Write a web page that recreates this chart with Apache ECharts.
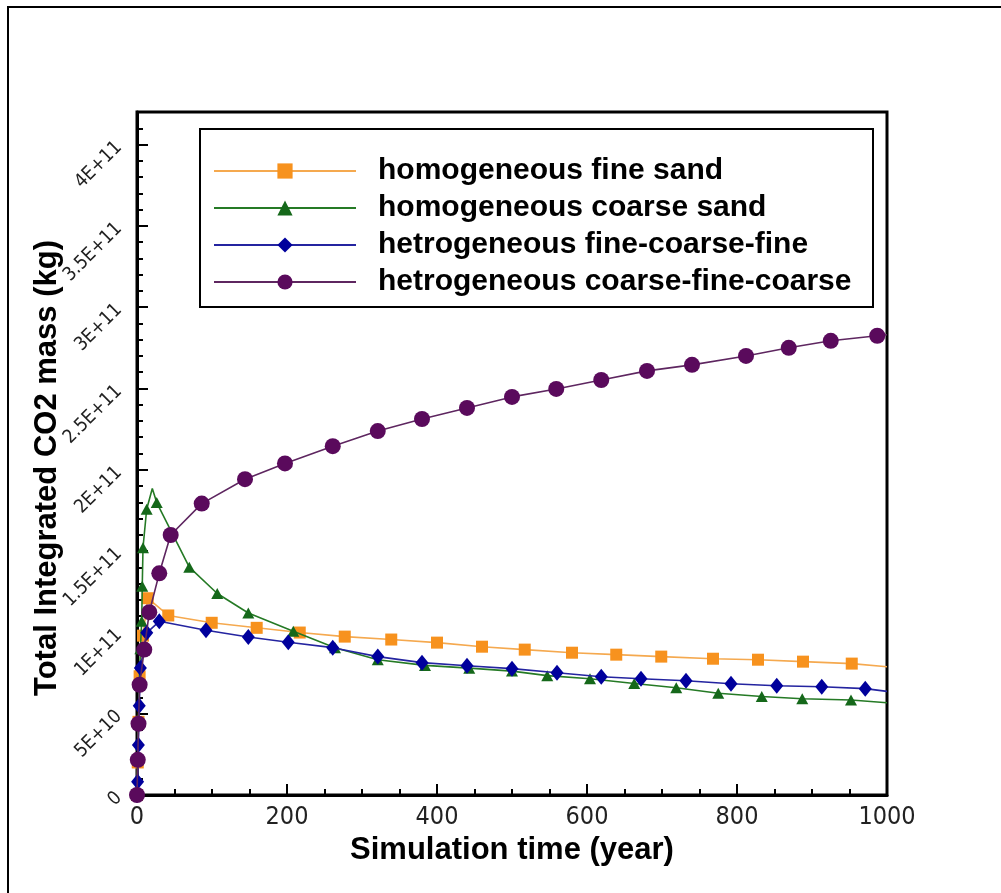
<!DOCTYPE html>
<html>
<head>
<meta charset="utf-8">
<script src="https://cdn.jsdelivr.net/npm/echarts@6/dist/echarts.min.js"></script>
<style>
  html, body { margin: 0; padding: 0; background: #ffffff; }
  #chart { width: 1001px; height: 893px; }
</style>
</head>
<body>
<div id="chart"></div>
<script>
// Series names (legend order)
const seriesNames = [
  'homogeneous fine sand',
  'homogeneous coarse sand',
  'hetrogeneous fine-coarse-fine',
  'hetrogeneous coarse-fine-coarse'
];

// Axis tick labels
const xTickLabels = ['0', '200', '400', '600', '800', '1000'];
const yTickLabels = ['0', '5E+10', '1E+11', '1.5E+11', '2E+11', '2.5E+11', '3E+11', '3.5E+11', '4E+11'];

// [time (year), total integrated CO2 mass (kg)] at the plotted symbols
const fineSandPoints = [
  [0, 0], [1, 0.20e11], [2, 0.45e11], [3.5, 0.73e11], [8, 0.98e11], [14.3, 1.21e11],
  [41.7, 1.104e11], [99.6, 1.059e11], [159.6, 1.028e11], [217, 0.999e11], [277, 0.974e11],
  [339, 0.956e11], [400, 0.937e11], [460, 0.912e11], [517, 0.894e11], [580, 0.875e11],
  [639, 0.863e11], [699, 0.851e11], [768, 0.838e11], [828, 0.832e11], [888, 0.820e11],
  [953, 0.808e11]
];
// curve points drawn without a symbol
const fineSandExtra = [[1000, 0.789e11]];

const coarseSandPoints = [
  [0, 0], [1, 0.22e11], [2, 0.45e11], [3, 0.68e11], [4.5, 0.90e11], [6.3, 1.068e11],
  [7, 1.284e11], [8, 1.521e11], [12.9, 1.757e11], [26.3, 1.798e11], [69.7, 1.401e11],
  [107, 1.239e11], [148.4, 1.119e11], [208.4, 1.007e11], [264, 0.906e11], [321, 0.832e11],
  [384, 0.797e11], [443, 0.780e11], [500, 0.762e11], [547, 0.734e11], [604, 0.715e11],
  [663, 0.686e11], [719, 0.660e11], [775, 0.626e11], [833, 0.606e11], [887, 0.592e11],
  [952, 0.584e11]
];
const coarseSandExtra = [[20.4, 1.885e11], [1000, 0.567e11]];

const fineCoarseFinePoints = [
  [0, 0], [0.8, 0.082e11], [1.8, 0.308e11], [3, 0.549e11], [4.5, 0.781e11], [13, 0.997e11],
  [29.7, 1.068e11], [92, 1.013e11], [148.4, 0.972e11], [201.7, 0.939e11], [261, 0.906e11],
  [321, 0.851e11], [380, 0.814e11], [440, 0.795e11], [500, 0.777e11], [560, 0.752e11],
  [619, 0.727e11], [672, 0.715e11], [732, 0.703e11], [792, 0.684e11], [853, 0.672e11],
  [913, 0.666e11], [971, 0.654e11]
];
const fineCoarseFineExtra = [[1000, 0.637e11]];

const coarseFineCoarsePoints = [
  [0, 0], [1, 0.216e11], [2, 0.438e11], [3.5, 0.678e11], [9.7, 0.894e11], [16.4, 1.124e11],
  [29.7, 1.363e11], [44.9, 1.599e11], [86.3, 1.792e11], [144, 1.942e11], [197.3, 2.039e11],
  [261, 2.145e11], [321, 2.238e11], [380, 2.312e11], [440, 2.380e11], [500, 2.448e11],
  [559, 2.497e11], [619, 2.552e11], [680, 2.608e11], [740, 2.645e11], [812, 2.700e11],
  [869, 2.750e11], [925, 2.793e11], [987, 2.824e11]
];
const coarseFineCoarseExtra = [[1000, 2.83e11]];

const Y_STEP = 0.5e11;
const NARROW = '"Liberation Sans Narrow", "DejaVu Sans Condensed", "Arial Narrow", sans-serif';
const BOLD = '"Liberation Sans", Arial, sans-serif';

// merge symbol points and plain curve points into one sorted polyline
function buildData(points, extra) {
  const all = points.map(p => ({ value: p }))
    .concat(extra.map(p => ({ value: p, symbol: 'none' })));
  all.sort((a, b) => a.value[0] - b.value[0]);
  return all;
}

const styles = [
  { line: '#f5a94f', mark: '#f7921e', symbol: 'rect', size: 12 },
  { line: '#257a25', mark: '#15681a', symbol: 'triangle', size: [12, 11] },
  { line: '#2424a0', mark: '#00009c', symbol: 'diamond', size: [13, 16] },
  { line: '#5e2660', mark: '#5a0a5c', symbol: 'circle', size: 16 }
];
const dataSets = [
  buildData(fineSandPoints, fineSandExtra),
  buildData(coarseSandPoints, coarseSandExtra),
  buildData(fineCoarseFinePoints, fineCoarseFineExtra),
  buildData(coarseFineCoarsePoints, coarseFineCoarseExtra)
];

const chart = echarts.init(document.getElementById('chart'), null, { renderer: 'canvas' });

const option = {
  backgroundColor: '#ffffff',
  animation: false,
  grid: { left: 137, top: 112, right: 114, bottom: 98, show: true, borderColor: '#000', borderWidth: 3, backgroundColor: 'transparent' },
  xAxis: {
    type: 'value', min: 0, max: 1000, interval: 200,
    name: 'Simulation time (year)', nameLocation: 'middle', nameGap: 39,
    nameTextStyle: { fontFamily: BOLD, fontWeight: 'bold', fontSize: 31, color: '#000', verticalAlign: 'middle' },
    axisLine: { lineStyle: { color: '#000', width: 3 } },
    axisTick: { inside: true, length: 11, lineStyle: { color: '#000', width: 2 } },
    minorTick: { show: true, splitNumber: 4, length: 6, lineStyle: { color: '#000', width: 2 } },
    splitLine: { show: false },
    axisLabel: {
      margin: 10, fontFamily: NARROW, fontSize: 25, color: '#222',
      formatter: v => xTickLabels[Math.round(v / 200)] ?? ''
    }
  },
  yAxis: [{
    type: 'value', min: 0, max: 4.2e11, interval: Y_STEP,
    axisLine: { lineStyle: { color: '#000', width: 3 } },
    axisTick: { inside: true, length: 11, lineStyle: { color: '#000', width: 2 } },
    splitLine: { show: false },
    axisLabel: {
      rotate: 45, margin: 18, fontFamily: NARROW, fontSize: 19, color: '#222', showMaxLabel: false,
      formatter: v => {
        const k = v / Y_STEP;
        return Math.abs(k - Math.round(k)) < 1e-6 ? (yTickLabels[Math.round(k)] ?? '') : '';
      }
    }
  }, {
    // minor ticks every 1E+10
    type: 'value', min: 0, max: 4.2e11, interval: 0.1e11, position: 'left', offset: 0,
    axisLine: { show: false },
    axisTick: { inside: true, length: 6, lineStyle: { color: '#000', width: 2 } },
    axisLabel: { show: false },
    splitLine: { show: false }
  }],
  legend: {
    orient: 'vertical', left: 213, top: 156, padding: 0, itemGap: 7,
    itemWidth: 142, itemHeight: 19, z: 10,
    data: seriesNames,
    textStyle: { fontFamily: BOLD, fontWeight: 'bold', fontSize: 30, lineHeight: 30, color: '#000', padding: [0, 0, 0, 17] }
  },
  graphic: [
    { type: 'rect', z: 1, shape: { x: 8, y: 7, width: 1100, height: 1000 }, style: { fill: 'none', stroke: '#000', lineWidth: 2 } },
    { type: 'rect', z: 9, shape: { x: 200, y: 129, width: 673, height: 178 }, style: { fill: '#fff', stroke: '#000', lineWidth: 2 } },
    {
      type: 'text', z: 10, x: 47, y: 468, rotation: Math.PI / 2,
      style: { text: 'Total Integrated CO2 mass (kg)', font: 'bold 31px ' + BOLD, fill: '#000', textAlign: 'center', textVerticalAlign: 'middle' }
    }
  ],
  series: seriesNames.map((name, i) => ({
    name, type: 'line', data: dataSets[i], z: 2 + i,
    showAllSymbol: true, symbol: styles[i].symbol, symbolSize: styles[i].size,
    lineStyle: { color: styles[i].line, width: 1.6 },
    itemStyle: { color: styles[i].mark },
    emphasis: { disabled: true }
  }))
};

chart.setOption(option);
</script>
</body>
</html>
